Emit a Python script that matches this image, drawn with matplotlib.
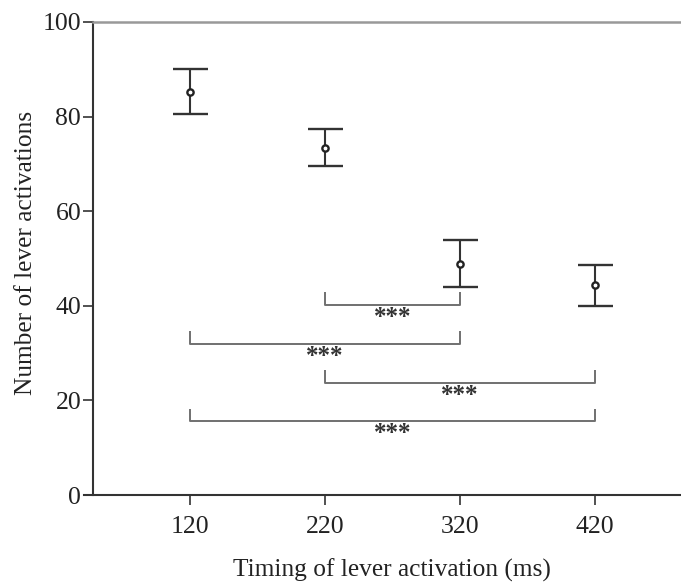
import matplotlib
matplotlib.use("Agg")
import matplotlib.pyplot as plt

plt.rcParams['font.family'] = ['Liberation Serif', 'DejaVu Serif']

timing = [120, 220, 320, 420]
means = [85.3, 73.4, 48.9, 44.4]
err_low = [80.6, 69.5, 44.0, 40.0]
err_high = [90.0, 77.3, 53.9, 48.6]
xticks = [120, 220, 320, 420]
yticks = [0, 20, 40, 60, 80, 100]

# significance brackets: (x1, x2, line level, tick top, label)
brackets_x1 = [220, 120, 220, 120]
brackets_x2 = [320, 320, 420, 420]
brackets_y = [40.2, 31.9, 23.7, 15.6]
brackets_top = [42.9, 34.7, 26.4, 18.2]
brackets_label = ['***', '***', '***', '***']

W, H = 681, 585
fig = plt.figure(figsize=(W / 100, H / 100), dpi=100)
ax = fig.add_axes([84 / W, (H - 495) / H, 1 - 84 / W, (495 - 22) / H])

px_per_unit = 135 / 100.0
xmin = 120 - (190 - 84) / px_per_unit
xmax = 420 + (W - 595) / px_per_unit
yaxis_x = 120 - (190 - 93) / px_per_unit
ax.set_xlim(xmin, xmax)
ax.set_ylim(0, 100)

yerr = [[m - lo for m, lo in zip(means, err_low)], [hi - m for m, hi in zip(means, err_high)]]
ax.errorbar(timing, means, yerr=yerr, fmt='o', color='#333333', ecolor='#333333',
            elinewidth=1.5, capsize=12.6, capthick=1.5, markersize=4.5,
            markerfacecolor='white', markeredgecolor='#222222', markeredgewidth=1.7,
            zorder=3)

for x1, x2, y, yt, lab in zip(brackets_x1, brackets_x2, brackets_y, brackets_top, brackets_label):
    ax.plot([x1, x1, x2, x2], [yt, y, y, yt], color='#707070', lw=1.4, solid_capstyle='butt')
    ax.text((x1 + x2) / 2, y - 0.2, lab, ha='center', va='top', fontsize=18,
            color='#333333', fontweight='bold')

ax.spines['right'].set_visible(False)
ax.spines['left'].set_position(('data', yaxis_x))
ax.spines['left'].set_color('#333333')
ax.spines['left'].set_linewidth(1.5)
ax.spines['bottom'].set_color('#333333')
ax.spines['bottom'].set_linewidth(1.5)
ax.spines['top'].set_color('#999999')
ax.spines['top'].set_linewidth(1.8)
ax.spines['top'].set_bounds(yaxis_x, xmax)

ax.set_xticks(xticks)
ax.set_xticklabels([str(t) for t in xticks])
ax.set_yticks(yticks)
ax.set_yticklabels([str(t) for t in yticks])
ax.tick_params(axis='both', direction='out', length=7, width=1.2, colors='#333333',
               labelsize=18.5, labelcolor='#222222')
ax.tick_params(axis='x', pad=8)
ax.tick_params(axis='y', pad=1.5)

fig.text(392 / W, 1 - 570 / H, 'Timing of lever activation (ms)', fontsize=18.3,
         color='#222222', ha='center', va='center')
fig.text(26 / W, 1 - 253 / H, 'Number of lever activations', fontsize=18.3,
         color='#222222', ha='center', va='center', rotation=90)

fig.savefig('out.png', dpi=100)
